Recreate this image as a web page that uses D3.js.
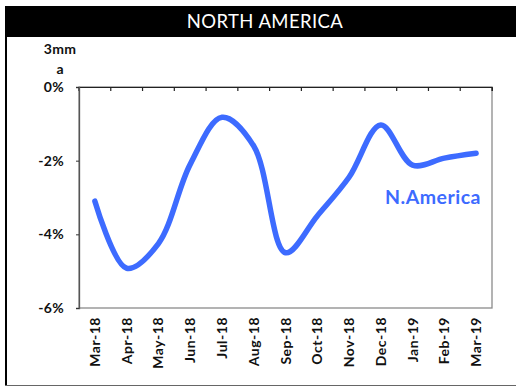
<!DOCTYPE html>
<html>
<head>
<meta charset="utf-8">
<script src="https://cdn.jsdelivr.net/npm/d3@7"></script>
<style>
  html, body { margin: 0; padding: 0; background: #fff; }
  svg { display: block; }
  text { font-family: "Lato", "Open Sans", sans-serif; }
</style>
</head>
<body>
<svg id="chart" width="516" height="389"></svg>
<script>
// Monthly 3mm annualised change, North America
const months = ["Mar-18","Apr-18","May-18","Jun-18","Jul-18","Aug-18","Sep-18",
                "Oct-18","Nov-18","Dec-18","Jan-19","Feb-19","Mar-19"];
const values = [-3.1, -4.92, -4.25, -2.1, -0.82, -1.6, -4.5, -3.5, -2.45, -1.03, -2.12, -1.93, -1.8];
const yTicks = [0, -2, -4, -6];
const title = "NORTH AMERICA";
const seriesName = "N.America";
const axisTitle = ["3mm", "a"];

const svg = d3.select("#chart");
const blue = "#3d6bff";

// frame and header
svg.append("rect").attr("x", 5).attr("y", 6).attr("width", 511).attr("height", 31).attr("fill", "#000");
svg.append("line").attr("x1", 6).attr("x2", 6).attr("y1", 6).attr("y2", 386)
  .attr("stroke", "#000").attr("stroke-width", 2);
svg.append("line").attr("x1", 5).attr("x2", 516).attr("y1", 385.5).attr("y2", 385.5)
  .attr("stroke", "#666").attr("stroke-width", 1.2);
svg.append("text").attr("x", 265).attr("y", 28).attr("text-anchor", "middle")
  .attr("fill", "#fff").attr("font-size", 18.5).attr("letter-spacing", 0.4).text(title);

const m = { left: 79, top: 87, right: 492, bottom: 308 };

const x = d3.scaleBand().domain(months).range([m.left, m.right]);
const y = d3.scaleLinear().domain([-6, 0]).range([m.bottom, m.top]);

// plot frame
svg.append("rect").attr("x", m.left).attr("y", m.top)
  .attr("width", m.right - m.left).attr("height", m.bottom - m.top)
  .attr("fill", "none").attr("stroke", "#8a8a8a").attr("stroke-width", 1.3);

// category ticks along the top edge
const xAxis = d3.axisTop(x).tickSize(-4).tickFormat("");
const gx = svg.append("g").attr("transform", `translate(0,${m.top})`).call(xAxis);
gx.select(".domain").attr("stroke", "#222");
gx.selectAll(".tick").attr("transform", d => `translate(${x(d)},0)`);
gx.selectAll(".tick line").attr("stroke", "#222").attr("stroke-width", 1.2);
// closing tick at the right edge
gx.append("line").attr("x1", m.right).attr("x2", m.right).attr("y1", 0).attr("y2", 4)
  .attr("stroke", "#222").attr("stroke-width", 1.2);

// rotated month labels
svg.append("g").selectAll("text").data(months).join("text")
  .attr("transform", d => `translate(${x(d) + x.bandwidth() / 2 + 5},${m.bottom + 9}) rotate(-90)`)
  .attr("text-anchor", "end")
  .attr("font-size", 14).attr("font-weight", "bold").attr("fill", "#111")
  .attr("letter-spacing", 0.5)
  .text(d => d);

// y axis
const yAxis = d3.axisLeft(y).tickValues(yTicks).tickSize(3).tickPadding(12)
  .tickFormat(d => d + "%");
const gy = svg.append("g").attr("transform", `translate(${m.left},0)`).call(yAxis);
gy.select(".domain").attr("stroke", "#555").attr("stroke-width", 1.3);
gy.selectAll(".tick line").attr("stroke", "#333");
gy.selectAll(".tick text").attr("font-size", 14).attr("font-weight", "bold")
  .attr("fill", "#111").attr("font-family", "Lato, sans-serif").attr("letter-spacing", 0.3);

// axis title
svg.append("text").attr("x", 60).attr("y", 54).attr("text-anchor", "middle")
  .attr("font-size", 14).attr("font-weight", "bold").attr("fill", "#111").attr("letter-spacing", 0.3).text(axisTitle[0]);
svg.append("text").attr("x", 60).attr("y", 74).attr("text-anchor", "middle")
  .attr("font-size", 14).attr("font-weight", "bold").attr("fill", "#111").text(axisTitle[1]);

// smoothed series line
const line = d3.line()
  .x((d, i) => x(months[i]) + x.bandwidth() / 2)
  .y(d => y(d))
  .curve(d3.curveCatmullRom.alpha(0.5));
svg.append("path").datum(values).attr("d", line)
  .attr("fill", "none").attr("stroke", blue).attr("stroke-width", 5.5)
  .attr("stroke-linecap", "round").attr("stroke-linejoin", "round");

// series label
svg.append("text").attr("x", 433).attr("y", 204).attr("text-anchor", "middle")
  .attr("font-size", 19.5).attr("font-weight", "bold").attr("fill", blue)
  .attr("letter-spacing", 0.5).text(seriesName);
</script>
</body>
</html>
